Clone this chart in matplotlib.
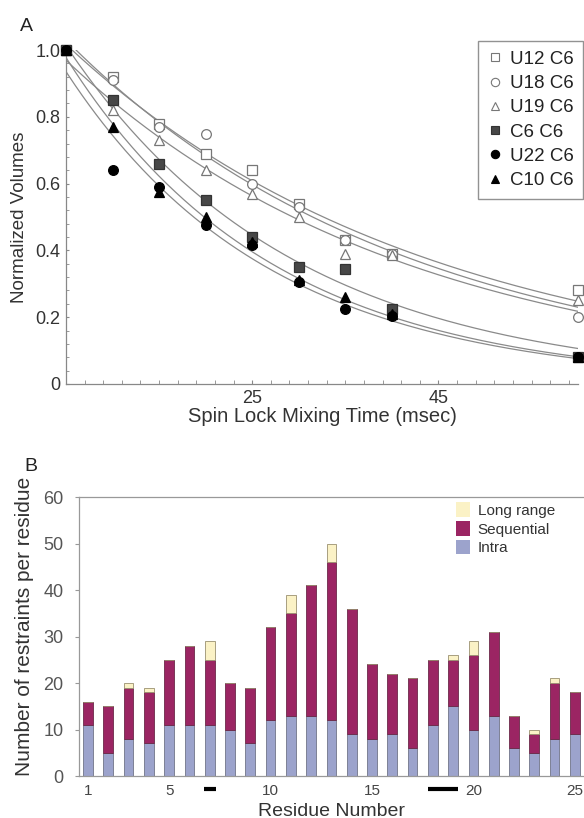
import numpy as np
import matplotlib
matplotlib.use("Agg")
import matplotlib.pyplot as plt
import matplotlib.transforms as mtransforms
from matplotlib.patches import Patch
from matplotlib.lines import Line2D

plt.rcParams['font.family'] = ['Liberation Sans', 'DejaVu Sans']

# ---------------- Panel A data ----------------
times = [5, 10, 15, 20, 25, 30, 35, 40, 60]
series_names = ["U12 C6", "U18 C6", "U19 C6", "C6 C6", "U22 C6", "C10 C6"]
u12 = [1.0, 0.92, 0.78, 0.69, 0.64, 0.54, 0.43, 0.39, 0.28]
u18 = [1.0, 0.91, 0.77, 0.75, 0.60, 0.53, 0.43, 0.39, 0.20]
u19 = [1.0, 0.82, 0.73, 0.64, 0.57, 0.50, 0.39, 0.385, 0.25]
c6 = [1.0, 0.85, 0.66, 0.55, 0.44, 0.35, 0.345, 0.225, 0.08]
u22 = [1.0, 0.64, 0.59, 0.475, 0.415, 0.305, 0.225, 0.205, 0.08]
c10 = [1.0, 0.77, 0.575, 0.50, 0.425, 0.31, 0.26, 0.21, 0.08]

# ---------------- Panel B data ----------------
residues = list(range(1, 26))
intra = [11, 5, 8, 7, 11, 11, 11, 10, 7, 12, 13, 13, 12, 9, 8, 9, 6, 11, 15, 10, 13, 6, 5, 8, 9]
sequential = [5, 10, 11, 11, 14, 17, 14, 10, 12, 20, 22, 28, 34, 27, 16, 13, 15, 14, 10, 16, 18, 7, 4, 12, 9]
long_range = [0, 0, 1, 1, 0, 0, 4, 0, 0, 0, 4, 0, 4, 0, 0, 0, 0, 0, 1, 3, 0, 0, 1, 1, 0]
res_ticks = [1, 5, 10, 15, 20, 25]
marked_spans = [(6.7, 7.3), (17.75, 19.25)]


def exp_fit(tv, yv):
    """Least-squares fit of y = a*exp(-k t) in linear space (scan over k)."""
    best = None
    for k in np.linspace(0.001, 0.2, 2000):
        e = np.exp(-k * tv)
        a = np.dot(e, yv) / np.dot(e, e)
        r = np.sum((yv - a * e) ** 2)
        if best is None or r < best[0]:
            best = (r, a, k)
    return best[1], best[2]


fig = plt.figure(figsize=(5.84, 8.18), dpi=100)

# ================= Panel A =================
axA = fig.add_axes([0.113, 0.5306, 0.877, 0.4082])
all_series = [u12, u18, u19, c6, u22, c10]
markers = ['s', 'o', '^', 's', 'o', '^']
faces = ['white', 'white', 'white', '#474747', 'black', 'black']
edges = ['#777777', '#777777', '#777777', '#333333', 'black', 'black']
t = np.array(times, dtype=float)
tt = np.linspace(4.5, 60, 300)
for ys in all_series:
    a, k = exp_fit(t, np.array(ys))
    axA.plot(tt, a * np.exp(-k * tt), color='#8a8a8a', lw=0.9, zorder=1)
for ys, m, fc, ec, name in zip(all_series, markers, faces, edges, series_names):
    axA.plot(times, ys, linestyle='none', marker=m, markersize=7 if m != '^' else 7.5,
             markerfacecolor=fc, markeredgecolor=ec, markeredgewidth=0.9,
             label=name, zorder=3, clip_on=False)

axA.set_xlim(5, 60)
axA.set_ylim(0, 1.0)
axA.set_xticks([25, 45])
axA.set_xticks(np.arange(5, 61, 2), minor=True)
axA.set_yticks([0, 0.2, 0.4, 0.6, 0.8, 1.0])
axA.set_yticklabels(['0', '0.2', '0.4', '0.6', '0.8', '1.0'])
axA.set_yticks(np.arange(0, 1.0001, 0.04), minor=True)
for s in ['top', 'right']:
    axA.spines[s].set_visible(False)
for s in ['left', 'bottom']:
    axA.spines[s].set_color('#888888')
    axA.spines[s].set_linewidth(0.9)
axA.tick_params(axis='x', which='both', direction='in', length=3, color='#888888',
                labelsize=13, labelcolor='#333333', pad=4)
axA.tick_params(axis='y', which='both', direction='in', length=2.5, color='#888888',
                labelsize=13, labelcolor='#333333', pad=4)
axA.set_xlabel('Spin Lock Mixing Time (msec)', fontsize=14.5, color='#333333', labelpad=0)
axA.set_ylabel('Normalized Volumes', fontsize=13.5, color='#333333', labelpad=5)

handles = [Line2D([], [], linestyle='none', marker=m, markersize=6,
                  markerfacecolor=fc, markeredgecolor=ec, markeredgewidth=0.8)
           for m, fc, ec in zip(markers, faces, edges)]
leg = axA.legend(handles, series_names, loc='upper right', bbox_to_anchor=(1.028, 1.054),
                 fontsize=13.5, frameon=True, fancybox=False, handlelength=0.8,
                 handletextpad=0.4, labelspacing=0.38, borderpad=0.5)
leg.get_frame().set_edgecolor('#777777')
leg.get_frame().set_linewidth(1.0)
for txt in leg.get_texts():
    txt.set_color('#222222')

fig.text(0.046, 0.968, 'A', fontsize=14, color='#222222', va='center', ha='center')

# ================= Panel B =================
axB = fig.add_axes([0.135, 0.0513, 0.865, 0.3411])
intra_c = '#9ca3cc'
seq_c = '#9b2563'
long_c = '#fbf2c6'
w = 0.48
axB.bar(residues, intra, width=w, color=intra_c, edgecolor='#707488', linewidth=0.6, label='Intra')
axB.bar(residues, sequential, width=w, bottom=intra, color=seq_c, edgecolor='#6a2848',
        linewidth=0.6, label='Sequential')
bottom_long = [a + b for a, b in zip(intra, sequential)]
axB.bar(residues, long_range, width=w, bottom=bottom_long, color=long_c,
        edgecolor='#9a9070', linewidth=0.6, label='Long range')

axB.set_xlim(0.55, 25.45)
axB.set_ylim(0, 60)
axB.set_yticks(range(0, 61, 10))
axB.set_xticks(res_ticks)
axB.spines['right'].set_visible(False)
for s in ['left', 'top', 'bottom']:
    axB.spines[s].set_color('#999999')
    axB.spines[s].set_linewidth(0.9)
axB.tick_params(axis='y', direction='out', length=3, color='#999999', labelsize=13,
                labelcolor='#555555', pad=8)
axB.tick_params(axis='x', length=0, labelsize=11, labelcolor='#444444', pad=6)
axB.set_xlabel('Residue Number', fontsize=14, color='#333333', labelpad=3)
axB.set_ylabel('Number of restraints per residue', fontsize=15, color='#333333')
axB.yaxis.set_label_coords(-0.088, 0.535)

trans = mtransforms.blended_transform_factory(axB.transData, axB.transAxes)
for x0, x1 in marked_spans:
    axB.plot([x0, x1], [-0.048, -0.048], color='black', lw=3, transform=trans,
             clip_on=False, solid_capstyle='butt')

lh = [Patch(facecolor=long_c, edgecolor='none'),
      Patch(facecolor=seq_c, edgecolor='none'),
      Patch(facecolor=intra_c, edgecolor='none')]
legB = axB.legend(lh, ['Long range', 'Sequential', 'Intra'], loc='upper left',
                  bbox_to_anchor=(0.72, 1.03), frameon=False, fontsize=11,
                  handlelength=0.9, handleheight=1.1, handletextpad=0.5, labelspacing=0.2)
for txt in legB.get_texts():
    txt.set_color('#333333')

fig.text(0.053, 0.430, 'B', fontsize=14, color='#222222', va='center', ha='center')

fig.savefig('out.png', dpi=100)
